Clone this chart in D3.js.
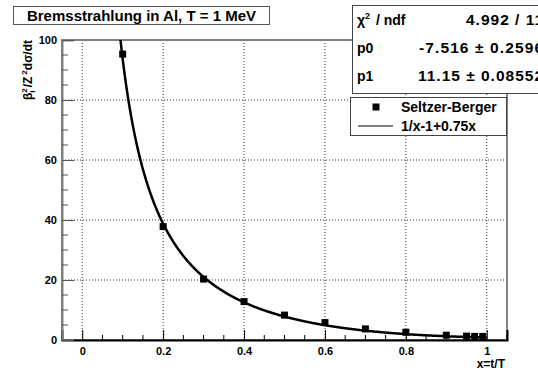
<!DOCTYPE html>
<html>
<head>
<meta charset="utf-8">
<script src="https://cdn.jsdelivr.net/npm/d3@7"></script>
<style>
  html, body { margin: 0; padding: 0; background: #fff; }
  svg { display: block; font-family: "Liberation Sans", Arial, sans-serif; font-weight: bold; }
</style>
</head>
<body>
<svg id="chart" width="538" height="371"></svg>
<script>
// Seltzer-Berger tabulated points
const xValues = [0.1, 0.2, 0.3, 0.4, 0.5, 0.6, 0.7, 0.8, 0.9, 0.95, 0.97, 0.99];
const sbValues = [95.3, 37.8, 20.3, 12.8, 8.3, 5.8, 3.7, 2.6, 1.6, 1.3, 1.2, 1.2];

// Fit parameters of p0 + p1*(1/x - 1 + 0.75x)
const fitP0 = -7.516;
const fitP1 = 11.15;
const fitRange = [0.05, 1.0];

// Axis ticks
const xMajorTicks = [0, 0.2, 0.4, 0.6, 0.8, 1];
const yMajorTicks = [0, 20, 40, 60, 80, 100];

// Stats box rows
const statNames = ["χ2 / ndf", "p0", "p1"];
const statValues = ["4.992 / 11", "-7.516 ± 0.2596", "11.15 ± 0.08552"];

const titleText = "Bremsstrahlung in Al, T = 1 MeV";
const legendLabels = ["Seltzer-Berger", "1/x-1+0.75x"];

const svg = d3.select("#chart");
const frame = { left: 62, right: 507, top: 40, bottom: 340 };

const x = d3.scaleLinear().domain([-0.05, 1.05]).range([frame.left, frame.right]);
const y = d3.scaleLinear().domain([0, 100]).range([frame.bottom, frame.top]);

// grid
const grid = svg.append("g").attr("stroke", "#000").attr("stroke-width", 0.8)
  .attr("stroke-dasharray", "1,2");
grid.selectAll("line.vx").data(xMajorTicks).join("line")
  .attr("x1", d => x(d)).attr("x2", d => x(d))
  .attr("y1", frame.top).attr("y2", frame.bottom);
grid.selectAll("line.hy").data(yMajorTicks.filter(d => d > 0 && d < 100)).join("line")
  .attr("x1", frame.left).attr("x2", frame.right)
  .attr("y1", d => y(d)).attr("y2", d => y(d));

// frame
svg.append("rect")
  .attr("x", frame.left).attr("y", frame.top)
  .attr("width", frame.right - frame.left).attr("height", frame.bottom - frame.top)
  .attr("fill", "none").attr("stroke", "#808080").attr("stroke-width", 2);

const labelFont = "Liberation Sans, Arial, sans-serif";

// x axis: ticks pointing inward, labels below
const xAxis = d3.axisBottom(x).tickValues(xMajorTicks).tickFormat(d3.format("~g"))
  .tickSize(-10).tickPadding(7);
const gx = svg.append("g").attr("transform", `translate(0,${frame.bottom})`).call(xAxis);
gx.select(".domain").attr("stroke", "#000").attr("stroke-width", 2);
gx.selectAll(".tick line").attr("stroke", "#000");
gx.selectAll(".tick text").attr("font-size", 11).attr("font-weight", "bold")
  .attr("font-family", labelFont).attr("fill", "#000");
const xMinor = d3.range(-0.05, 1.0501, 0.05).filter(v => xMajorTicks.every(t => Math.abs(t - v) > 1e-6));
svg.append("g").selectAll("line").data(xMinor).join("line")
  .attr("x1", d => x(d)).attr("x2", d => x(d))
  .attr("y1", frame.bottom).attr("y2", frame.bottom - 5)
  .attr("stroke", "#000");

// y axis
const yAxis = d3.axisLeft(y).tickValues(yMajorTicks).tickSize(-12).tickPadding(5);
const gy = svg.append("g").attr("transform", `translate(${frame.left},0)`).call(yAxis);
gy.select(".domain").attr("stroke", "#808080").attr("stroke-width", 2);
gy.selectAll(".tick line").attr("stroke", "#555");
gy.selectAll(".tick text").attr("font-size", 11).attr("font-weight", "bold")
  .attr("font-family", labelFont).attr("fill", "#000");
const yMinor = d3.range(5, 100, 5).filter(v => v % 20 !== 0);
svg.append("g").selectAll("line").data(yMinor).join("line")
  .attr("x1", frame.left).attr("x2", frame.left + 6)
  .attr("y1", d => y(d)).attr("y2", d => y(d))
  .attr("stroke", "#555");

// clip region for the plotted content
svg.append("clipPath").attr("id", "plotClip").append("rect")
  .attr("x", frame.left).attr("y", frame.top)
  .attr("width", frame.right - frame.left).attr("height", frame.bottom - frame.top);

// fitted curve
const fitFn = t => fitP0 + fitP1 * (1 / t - 1 + 0.75 * t);
const curvePts = d3.range(fitRange[0], fitRange[1] + 1e-9, 0.002).map(t => [t, fitFn(t)]);
svg.append("path")
  .attr("clip-path", "url(#plotClip)")
  .attr("d", d3.line().x(d => x(d[0])).y(d => y(d[1]))(curvePts))
  .attr("fill", "none").attr("stroke", "#000").attr("stroke-width", 2.5);

// data markers
const ms = 7;
svg.append("g").selectAll("rect").data(xValues.map((v, i) => [v, sbValues[i]])).join("rect")
  .attr("x", d => x(d[0]) - ms / 2).attr("y", d => y(d[1]) - ms / 2)
  .attr("width", ms).attr("height", ms).attr("fill", "#000");

// title box
svg.append("rect").attr("x", 13.5).attr("y", 6.5).attr("width", 256).attr("height", 18)
  .attr("fill", "#fff").attr("stroke", "#555").attr("stroke-width", 1);
svg.append("text").attr("x", 13.5 + 128).attr("y", 20.5).attr("text-anchor", "middle")
  .attr("font-size", 15).text(titleText);

// stats box (extends past the right edge of the canvas)
svg.append("rect").attr("x", 352.5).attr("y", 5.5).attr("width", 200).attr("height", 88)
  .attr("fill", "#fff").attr("stroke", "#444").attr("stroke-width", 1);
const rowY = [25, 53, 81];
const valueStart = [466, 419, 418];
const valueEnd = 543;
statNames.forEach((n, i) => {
  const t = svg.append("text").attr("x", 357).attr("y", rowY[i]).attr("font-size", 14);
  if (n.startsWith("χ2")) {
    t.append("tspan").text("χ");
    t.append("tspan").attr("font-size", 9).attr("dy", -6).text("2");
    t.append("tspan").attr("dy", 6).attr("dx", 2).text(" / ndf");
  } else {
    t.text(n);
  }
  svg.append("text").attr("x", valueStart[i]).attr("y", rowY[i])
    .attr("font-size", 15.5)
    .attr("textLength", valueEnd - valueStart[i]).attr("lengthAdjust", "spacing")
    .text(statValues[i]);
});

// legend box
svg.append("rect").attr("x", 350.5).attr("y", 97.5).attr("width", 156).attr("height", 38)
  .attr("fill", "#fff").attr("stroke", "#444").attr("stroke-width", 1);
svg.append("rect").attr("x", 376 - ms / 2).attr("y", 107 - ms / 2)
  .attr("width", ms).attr("height", ms).attr("fill", "#000");
svg.append("line").attr("x1", 358).attr("x2", 393).attr("y1", 126).attr("y2", 126)
  .attr("stroke", "#000").attr("stroke-width", 1);
legendLabels.forEach((l, i) => {
  svg.append("text").attr("x", 401).attr("y", [112, 131][i]).attr("font-size", 14).text(l);
});

// axis titles
svg.append("text").attr("x", 505).attr("y", 368).attr("text-anchor", "end")
  .attr("font-size", 12).text("x=t/T");

const yTitle = svg.append("g").attr("transform", "translate(32,40) rotate(-90)");
const pieces = [
  { s: "β", size: 12, dy: 0 },
  { s: "2", size: 8, dy: -5, stackNext: true },
  { s: "I", size: 8, dy: 3 },
  { s: "/Z", size: 12, dy: 0, gap: 1 },
  { s: "2", size: 8, dy: -5, gap: 2 },
  { s: " dσ/dt", size: 12, dy: 0 }
];
// lay pieces out left to right, then shift so the text ends at the top of the frame
let cursor = 0, stackX = null;
const nodes = [];
pieces.forEach(p => {
  const startX = stackX !== null ? stackX : cursor + (p.gap || 0);
  const t = yTitle.append("text").attr("x", startX).attr("y", p.dy)
    .attr("font-size", p.size).text(p.s);
  const w = t.node().getComputedTextLength();
  nodes.push(t);
  if (p.stackNext) { stackX = startX; cursor = startX + w; }
  else { cursor = Math.max(cursor, startX + w); stackX = null; }
});
nodes.forEach(t => t.attr("x", +t.attr("x") - cursor));
</script>
</body>
</html>
